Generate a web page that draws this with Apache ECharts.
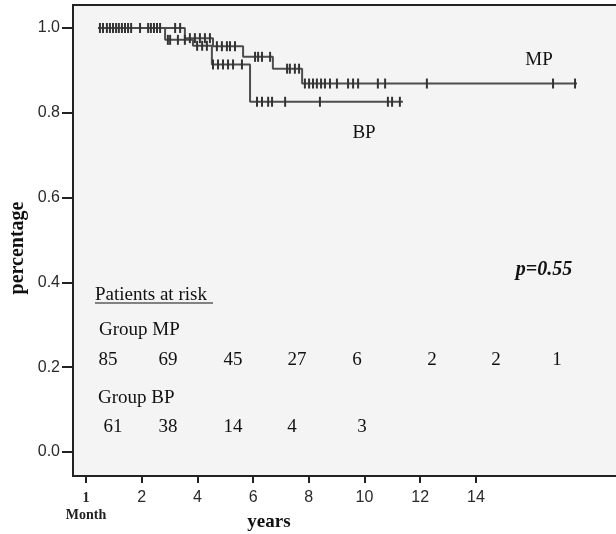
<!DOCTYPE html>
<html>
<head>
<meta charset="utf-8">
<script src="https://cdn.jsdelivr.net/npm/echarts@6/dist/echarts.min.js"></script>
<style>
  html, body { margin: 0; padding: 0; background: #ffffff; }
  #chart { width: 616px; height: 534px; }
</style>
</head>
<body>
<div id="chart"></div>
<script>
// ---- Data (years / survival proportion) ----
const mpTimes   = [0.43, 3.55, 4.56, 5.64, 6.71, 7.76, 17.63];
const mpValues  = [1.0, 0.976, 0.957, 0.932, 0.904, 0.869, 0.869];
const bpTimes   = [0.43, 2.84, 3.84, 4.52, 5.89, 11.38];
const bpValues  = [1.0, 0.972, 0.958, 0.914, 0.826, 0.826];

const mpCensored = [0.50, 0.61, 0.75, 0.97, 1.08, 1.18, 1.29, 1.40, 1.94, 2.23, 2.44, 2.55, 3.20, 3.38,
                    3.73, 3.91, 4.09, 4.27, 4.45,
                    4.70, 4.88, 5.06, 5.17, 5.35,
                    6.07, 6.18, 6.32, 6.61,
                    7.22, 7.32, 7.50, 7.65,
                    7.86, 8.01, 8.15, 8.29, 8.44, 8.58, 8.76, 9.01, 9.41, 9.59, 9.77, 10.48, 10.74, 12.24, 16.77, 17.56];
const bpCensored = [0.86, 1.51, 1.62, 2.33, 2.66,
                    2.94, 3.02, 3.30, 3.55,
                    3.99, 4.17, 4.34,
                    4.56, 4.74, 4.92, 5.10, 5.28, 5.60,
                    6.14, 6.32, 6.54, 6.68, 7.15, 8.40, 10.84, 10.99, 11.27];

// Patients at risk
const atRiskMP = [85, 69, 45, 27, 6, 2, 2, 1];
const atRiskBP = [61, 38, 14, 4, 3];
// positions of the at-risk numbers (in axis units)
const atRiskMPx = [0.79, 2.94, 5.28, 7.58, 9.73, 12.42, 14.72, 16.91];
const atRiskBPx = [0.97, 2.94, 5.28, 7.40, 9.91];
const atRiskMPy = 0.217;
const atRiskBPy = 0.059;

// Axis ticks
const xTicks = [0, 2, 4, 6, 8, 10, 12, 14];
const yTicks = [0, 0.2, 0.4, 0.6, 0.8, 1.0];

// ---- helpers ----
function stepValue(times, values, t) {
  let v = values[0];
  for (let i = 0; i < times.length; i++) { if (times[i] <= t) v = values[i]; }
  return v;
}
const zip = (a, b) => a.map((x, i) => [x, b[i]]);

const serif = 'Liberation Serif';
const chart = echarts.init(document.getElementById('chart'), null, { renderer: 'canvas' });

const censorStyle = { color: '#333', opacity: 1 };
const riskLabel = { show: true, position: 'inside', formatter: p => String(p.data[2]),
                    fontFamily: serif, fontSize: 19, color: '#111', opacity: 1 };

const option = {
  animation: false,
  backgroundColor: '#ffffff',
  grid: {
    left: 73, top: 5, right: -27, bottom: 58,
    outerBoundsMode: 'none', containLabel: false,
    show: true, backgroundColor: '#f4f4f4', borderColor: '#222', borderWidth: 2
  },
  xAxis: {
    type: 'value', min: -0.467, max: 20,
    axisLine: { show: false, onZero: false },
    splitLine: { show: false },
    axisTick: { show: true, customValues: xTicks, length: 7, lineStyle: { color: '#222', width: 2 } },
    axisLabel: {
      customValues: xTicks, margin: 14,
      fontFamily: 'Liberation Sans', fontSize: 16, color: '#2a2a2a',
      formatter: function (v) { return v === 0 ? '{m|1}\n{m|Month}' : String(v); },
      rich: { m: { fontFamily: serif, fontWeight: 'bold', fontSize: 14, color: '#222', lineHeight: 17 } }
    }
  },
  yAxis: {
    type: 'value', min: -0.0566, max: 1.0542,
    axisLine: { show: false, onZero: false },
    splitLine: { show: false },
    axisTick: { show: true, customValues: yTicks, length: 11, lineStyle: { color: '#222', width: 2 } },
    axisLabel: {
      customValues: yTicks, margin: 13,
      fontFamily: 'Liberation Sans', fontSize: 16, color: '#2a2a2a',
      formatter: function (v) { return v.toFixed(1); }
    }
  },
  series: [
    { type: 'line', step: 'end', showSymbol: false, data: zip(mpTimes, mpValues),
      lineStyle: { color: '#4d4d4d', width: 2 }, z: 2 },
    { type: 'line', step: 'end', showSymbol: false, data: zip(bpTimes, bpValues),
      lineStyle: { color: '#4d4d4d', width: 2 }, z: 2 },
    { type: 'scatter', symbol: 'rect', symbolSize: [2, 10], itemStyle: censorStyle, z: 3,
      data: mpCensored.map(t => [t, stepValue(mpTimes, mpValues, t)]) },
    { type: 'scatter', symbol: 'rect', symbolSize: [2, 10], itemStyle: censorStyle, z: 3,
      data: bpCensored.map(t => [t, stepValue(bpTimes, bpValues, t)]) },
    { type: 'scatter', symbolSize: 0, z: 4, itemStyle: { opacity: 1 },
      data: atRiskMP.map((n, i) => [atRiskMPx[i], atRiskMPy, n]), label: riskLabel },
    { type: 'scatter', symbolSize: 0, z: 4, itemStyle: { opacity: 1 },
      data: atRiskBP.map((n, i) => [atRiskBPx[i], atRiskBPy, n]), label: riskLabel }
  ],
  graphic: [
    { type: 'text', x: 539, y: 60, style: { text: 'MP', font: '19px "Liberation Serif"', fill: '#111', align: 'center', verticalAlign: 'middle' } },
    { type: 'text', x: 364, y: 133, style: { text: 'BP', font: '19px "Liberation Serif"', fill: '#111', align: 'center', verticalAlign: 'middle' } },
    { type: 'text', x: 544, y: 270, style: { text: 'p=0.55', font: 'italic bold 20px "Liberation Serif"', fill: '#111', align: 'center', verticalAlign: 'middle' } },
    { type: 'text', x: 95, y: 295, style: { text: 'Patients at risk', font: '19px "Liberation Serif"', fill: '#111', align: 'left', verticalAlign: 'middle' } },
    { type: 'line', shape: { x1: 95, y1: 303, x2: 213, y2: 303 }, style: { stroke: '#111', lineWidth: 1 } },
    { type: 'text', x: 99, y: 330, style: { text: 'Group MP', font: '19px "Liberation Serif"', fill: '#111', align: 'left', verticalAlign: 'middle' } },
    { type: 'text', x: 98, y: 398, style: { text: 'Group BP', font: '19px "Liberation Serif"', fill: '#111', align: 'left', verticalAlign: 'middle' } },
    { type: 'text', x: 18, y: 248, rotation: Math.PI / 2, style: { text: 'percentage', font: 'bold 20px "Liberation Serif"', fill: '#111', align: 'center', verticalAlign: 'middle' } },
    { type: 'text', x: 269, y: 522, style: { text: 'years', font: 'bold 19px "Liberation Serif"', fill: '#111', align: 'center', verticalAlign: 'middle' } }
  ]
};
chart.setOption(option);
</script>
</body>
</html>
